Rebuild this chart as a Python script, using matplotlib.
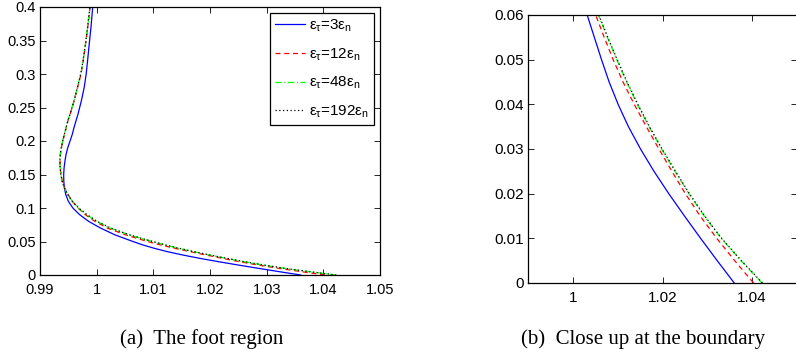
import numpy as np
import matplotlib
matplotlib.use("Agg")
import matplotlib.pyplot as plt

plt.rcParams['font.family'] = ['Liberation Sans', 'DejaVu Sans']
plt.rcParams['mathtext.fontset'] = 'custom'
plt.rcParams['mathtext.rm'] = 'Liberation Sans'
plt.rcParams['mathtext.it'] = 'Liberation Sans'

# free-surface height (y) and position (x) for the four tangential penalties
y = [0, 0.005, 0.01, 0.015, 0.02, 0.025, 0.03, 0.035, 0.04, 0.045, 0.05,
     0.055, 0.06,
     0.07, 0.08, 0.09, 0.10, 0.11, 0.12, 0.13, 0.14, 0.15, 0.16, 0.17,
     0.18, 0.19, 0.20, 0.21, 0.22, 0.23, 0.24, 0.25,
     0.26, 0.28, 0.30, 0.32, 0.35, 0.37, 0.40, 0.42]

x_3 = [1.0360, 1.0322, 1.0285, 1.0249, 1.0214, 1.0181, 1.0151, 1.0124,
       1.0101, 1.0081, 1.0064, 1.0048, 1.0032,
       1.0007, 0.9986, 0.9970, 0.9958, 0.9950, 0.99455, 0.9943, 0.9942,
       0.99418, 0.99425, 0.9944, 0.9946, 0.9949, 0.9953, 0.9957, 0.9960,
       0.99635, 0.9967, 0.9970,
       0.9973, 0.9978, 0.99815, 0.9984, 0.99875, 0.9990, 0.9993, 0.9995]

x_12 = [1.0403, 1.0361, 1.0321, 1.0284, 1.0251, 1.0221, 1.0192, 1.0164,
        1.0137, 1.0112, 1.0090, 1.0070, 1.0051,
        1.0019, 0.9997, 0.9980, 0.9967, 0.9957, 0.99495, 0.99435, 0.99395,
        0.9937, 0.99358, 0.99353, 0.9936, 0.99378, 0.99403, 0.99433,
        0.99463, 0.99493, 0.99532, 0.99567,
        0.99603, 0.99663, 0.99723, 0.99763, 0.99813, 0.99843, 0.99883,
        0.99903]

x_48 = [1.0422, 1.0375, 1.0331, 1.0293, 1.0259, 1.0228, 1.0198, 1.0170,
        1.0144, 1.0120, 1.0098, 1.0077, 1.0057,
        1.0024, 1.0000, 0.9982, 0.9968, 0.9957, 0.9949, 0.9943, 0.9939,
        0.99368, 0.99355, 0.9935, 0.99358, 0.99375, 0.9940, 0.9943, 0.9946,
        0.9949, 0.9953, 0.99565,
        0.9960, 0.9966, 0.9972, 0.9976, 0.9981, 0.9984, 0.9988, 0.9990]

x_192 = [1.0423, 1.0376, 1.0332, 1.0294, 1.0260, 1.0229, 1.0199, 1.0171,
         1.0145, 1.0121, 1.0099, 1.0078, 1.0058,
         1.0025, 1.0001, 0.9983, 0.9968, 0.9957, 0.9949, 0.9943, 0.9939,
         0.99368, 0.99355, 0.9935, 0.99358, 0.99375, 0.9940, 0.9943, 0.9946,
         0.9949, 0.9953, 0.99565,
         0.9960, 0.9966, 0.9972, 0.9976, 0.9981, 0.9984, 0.9988, 0.9990]

labels = [r'$\mathregular{\varepsilon_\tau}$=3$\mathregular{\varepsilon_n}$',
          r'$\mathregular{\varepsilon_\tau}$=12$\mathregular{\varepsilon_n}$',
          r'$\mathregular{\varepsilon_\tau}$=48$\mathregular{\varepsilon_n}$',
          r'$\mathregular{\varepsilon_\tau}$=192$\mathregular{\varepsilon_n}$']

xt_a = [0.99, 1.0, 1.01, 1.02, 1.03, 1.04, 1.05]
xl_a = ['0.99', '1', '1.01', '1.02', '1.03', '1.04', '1.05']
yt_a = [0, 0.05, 0.1, 0.15, 0.2, 0.25, 0.3, 0.35, 0.4]
yl_a = ['0', '0.05', '0.1', '0.15', '0.2', '0.25', '0.3', '0.35', '0.4']
xt_b = [1.0, 1.02, 1.04]
xl_b = ['1', '1.02', '1.04']
yt_b = [0, 0.01, 0.02, 0.03, 0.04, 0.05, 0.06]
yl_b = ['0', '0.01', '0.02', '0.03', '0.04', '0.05', '0.06']

styles = [dict(color='b', ls='-'),
          dict(color='r', ls=(0, (4, 3))),
          dict(color=(0, 1, 0), ls=(0, (5, 2, 1, 2))),
          dict(color='k', ls=(0, (1, 2)))]

fig = plt.figure(figsize=(7.96, 3.53), dpi=100)
ax1 = fig.add_axes([40/796, 78/353, 340/796, 268/353])
ax2 = fig.add_axes([528/796, 70/353, 269/796, 268/353])

for ax, fs in ((ax1, 10.5), (ax2, 11)):
    for xs, st, lb in zip([x_3, x_12, x_48, x_192], styles, labels):
        ax.plot(xs, y, lw=0.9, label=lb, **st)
    ax.tick_params(direction='in', top=True, right=True, length=4,
                   width=0.6, labelsize=fs, pad=3)
    ax.tick_params(axis='x', pad=6)
    for s in ax.spines.values():
        s.set_linewidth(0.9)

ax1.set_xlim(0.99, 1.05)
ax1.set_ylim(0, 0.4)
ax1.set_xticks(xt_a, xl_a)
ax1.set_yticks(yt_a, yl_a)

ax2.set_xlim(0.99, 1.05)
ax2.set_ylim(0, 0.06)
ax2.set_xticks(xt_b, xl_b)
ax2.set_yticks(yt_b, yl_b)

leg = ax1.legend(loc='upper right', fontsize=11, fancybox=False,
                 framealpha=1, edgecolor='k', handlelength=2.0,
                 handletextpad=0.25, labelspacing=0.8, borderaxespad=0.4,
                 borderpad=0.3)
leg.get_frame().set_linewidth(0.9)

fig.text(202/796, 9/353, '(a)  The foot region', ha='center',
         va='baseline', family='Liberation Serif', fontsize=15)
fig.text(643/796, 9/353, '(b)  Close up at the boundary', ha='center',
         va='baseline', family='Liberation Serif', fontsize=15)

fig.savefig('out.png', dpi=100)
